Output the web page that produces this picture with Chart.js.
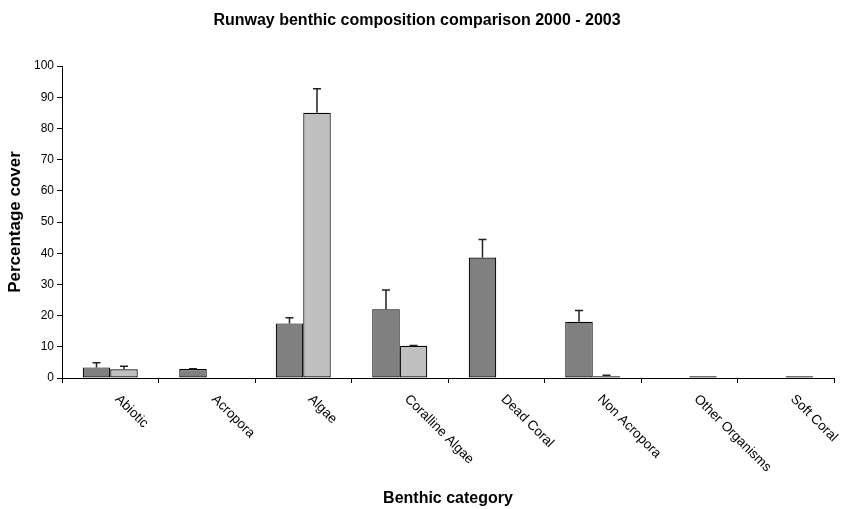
<!DOCTYPE html>
<html>
<head>
<meta charset="utf-8">
<title>Runway benthic composition</title>
<script src="https://cdn.jsdelivr.net/npm/chart.js@4.4.1/dist/chart.umd.min.js"></script>
<style>
    html, body { margin:0; padding:0; background:#fff; }
    #wrap { width:843px; height:509px; position:relative; }
</style>
</head>
<body>
<div id="wrap"><canvas id="chart"></canvas></div>
<script>
// data
const categories = ['Abiotic','Acropora','Algae','Coralline Algae','Dead Coral','Non Acropora','Other Organisms','Soft Coral'];
const cover2000 = [3.4, 2.9, 17.5, 22.0, 38.6, 18.0, 0, 0];
const cover2003 = [2.8, 0, 85.0, 10.3, 0, 0.6, 0.6, 0.6];
const err2000 = [1.5, 0.1, 1.8, 6.2, 5.8, 3.6, 0, 0];
const err2003 = [1.0, 0, 7.7, 0.1, 0, 0.3, 0, 0];
const yTicks = [0,10,20,30,40,50,60,70,80,90,100];

const FONT = "'Liberation Sans', Arial, sans-serif";
const errors = [err2000, err2003];

// error bars (upper whisker only, like the original)
const errorBars = {
    id:'errorBars',
    afterDatasetsDraw(chart) {
        const ctx = chart.ctx, y = chart.scales.y;
        ctx.save();
        ctx.strokeStyle = '#222';
        ctx.lineWidth = 1.5;
        chart.data.datasets.forEach((ds, di) => {
            const meta = chart.getDatasetMeta(di);
            meta.data.forEach((bar, i) => {
                const e = errors[di][i];
                if (!e) return;
                const yTop = y.getPixelForValue(ds.data[i] + e);
                const yVal = y.getPixelForValue(ds.data[i]);
                ctx.beginPath();
                ctx.moveTo(bar.x, yVal); ctx.lineTo(bar.x, yTop);
                ctx.moveTo(bar.x - 4, yTop); ctx.lineTo(bar.x + 4, yTop);
                ctx.stroke();
            });
        });
        ctx.restore();
    }
};

// slanted category labels, reading downwards from the tick
const slantLabels = {
    id:'slantLabels',
    afterDraw(chart) {
        const ctx = chart.ctx, x = chart.scales.x;
        ctx.save();
        ctx.font = '13.5px ' + FONT;
        ctx.fillStyle = '#000';
        ctx.textAlign = 'left';
        ctx.textBaseline = 'middle';
        categories.forEach((c, i) => {
            ctx.save();
            ctx.translate(x.getPixelForTick(i) + 7, x.top + 19);
            ctx.rotate(Math.PI / 4);
            ctx.fillText(c, 0, 0);
            ctx.restore();
        });
        ctx.restore();
    }
};

new Chart(document.getElementById('chart'), {
    type:'bar',
    data:{
        labels:categories,
        datasets:[
            {label:'2000', data:cover2000, backgroundColor:'#808080', borderColor:'#000', borderWidth:1.2, borderSkipped:false},
            {label:'2003', data:cover2003, backgroundColor:'#c0c0c0', borderColor:'#000', borderWidth:1.2, borderSkipped:false}
        ]
    },
    options:{
        responsive:true,
        maintainAspectRatio:false,
        animation:false,
        layout:{padding:{left:0, right:9, top:0, bottom:0}},
        datasets:{bar:{categoryPercentage:0.57, barPercentage:1.0}},
        plugins:{
            legend:{display:false},
            tooltip:{enabled:false},
            title:{display:true, text:'Runway benthic composition comparison 2000 - 2003', color:'#000',
                font:{family:FONT, size:16, weight:'bold'}, padding:{top:11, bottom:35.8}}
        },
        scales:{
            x:{
                afterFit(s){ s.height = 131; },
                border:{color:'#000', width:1},
                grid:{offset:true, drawOnChartArea:false, drawTicks:true, tickLength:5, color:'#000'},
                ticks:{display:false},
                title:{display:true, text:'Benthic category', color:'#000',
                    font:{family:FONT, size:16, weight:'bold'}, padding:{top:0, bottom:1}}
            },
            y:{
                min:0, max:100,
                afterFit(s){ s.width = 62; },
                afterBuildTicks(s){ s.ticks = yTicks.map(v => ({value:v})); },
                border:{color:'#000', width:1},
                grid:{drawOnChartArea:false, drawTicks:true, tickLength:5, color:'#000'},
                ticks:{color:'#000', padding:3, font:{family:FONT, size:12}},
                title:{display:true, text:'Percentage cover', color:'#000',
                    font:{family:FONT, size:17, weight:'bold'}, padding:{top:5, bottom:0}}
            }
        }
    },
    plugins:[errorBars, slantLabels]
});
</script>
</body>
</html>
